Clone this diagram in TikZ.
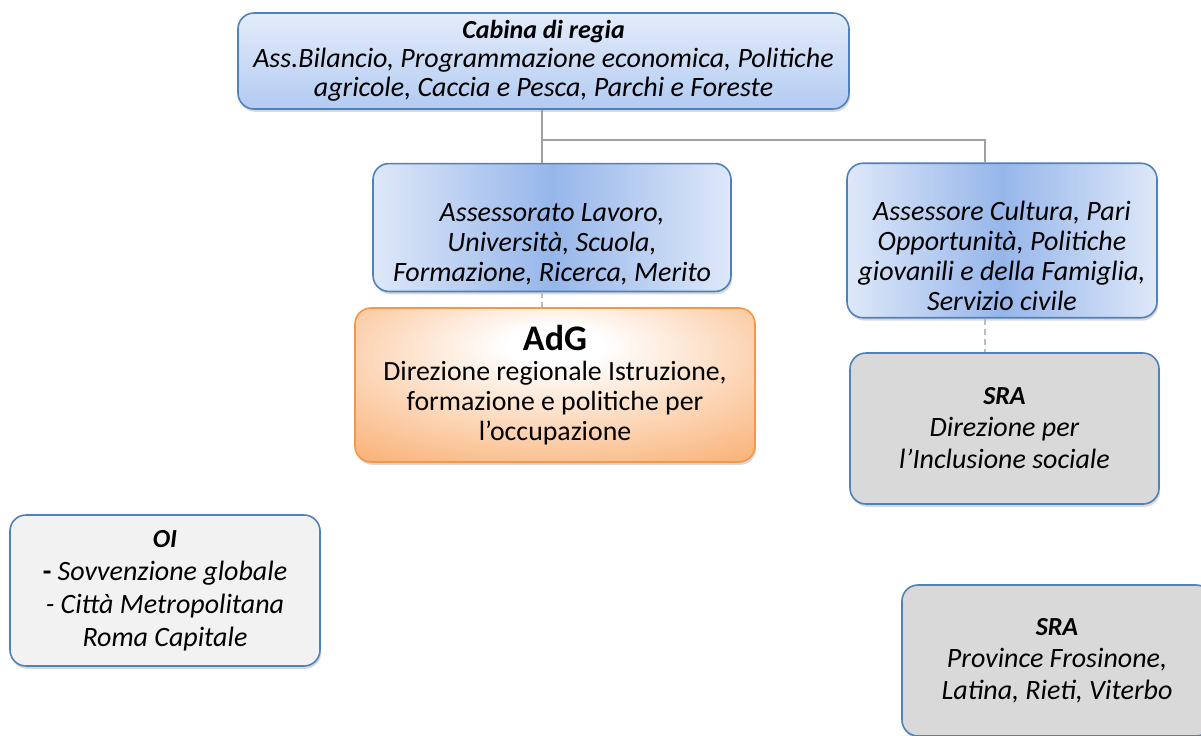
\documentclass[tikz,border=0pt]{standalone}
\usepackage{fontspec}
\setmainfont{Carlito}
\usetikzlibrary{shadows}

\definecolor{bordo}{RGB}{79,129,189}
\definecolor{bluchiaro}{RGB}{222,232,249}
\definecolor{blutop}{RGB}{228,236,250}
\definecolor{blubot}{RGB}{178,203,242}
\definecolor{blumedio}{RGB}{150,182,234}
\definecolor{arancio}{RGB}{247,150,70}
\definecolor{grigioscuro}{RGB}{217,217,217}
\definecolor{grigiochiaro}{RGB}{242,242,242}
\definecolor{grigiolinea}{RGB}{160,160,160}

% sfumatura arancio, chiara in alto al centro
\pgfdeclareradialshading{adgsh}{\pgfpoint{0bp}{14bp}}{color(0bp)=(white);
  color(6bp)=(white); color(36bp)=(arancio!65); color(52bp)=(arancio);
  color(80bp)=(arancio)}

\newcommand\titolo[2][13]{{\fontsize{#1}{14}\selectfont\bfseries #2}}

\begin{document}
\begin{tikzpicture}[x=0.5pt,y=-0.5pt,
  box/.style={draw=bordo, line width=0.8pt, rounded corners=8pt, align=center,
    font=\fontsize{14}{14.5}\selectfont\itshape,
    drop shadow={shadow xshift=0.6pt, shadow yshift=-1.4pt, opacity=0.3}},
  cabina/.style={box, top color=blutop, bottom color=blubot},
  assess/.style={box, left color=bluchiaro, right color=bluchiaro, middle color=blumedio,
    font=\fontsize{14}{15}\selectfont\itshape},
  adgbox/.style={box, draw=arancio, shade, shading=adgsh,
    font=\fontsize{13.9}{15}\selectfont},
  sra/.style={box, fill=grigioscuro, font=\fontsize{14}{16}\selectfont\itshape},
  oibox/.style={box, fill=grigiochiaro, font=\fontsize{14}{16.5}\selectfont\itshape},
  linea/.style={draw=grigiolinea, line width=1pt},
  tratto/.style={draw=grigiolinea!70, line width=1pt, dash pattern=on 3pt off 2pt}]
  \useasboundingbox (0,0) rectangle (1201,735);
  \clip (0,0) rectangle (1201,735);

  % livello alto
  \node[cabina, minimum width=305.5pt, minimum height=48pt] (cab) at (543.5,61)
  {\titolo{Cabina di regia}\\Ass.Bilancio, Programmazione economica, Politiche\\
    agricole, Caccia e Pesca, Parchi e Foreste};

  % assessorati
  \node[assess, minimum width=179pt, minimum height=62.5pt] (asl) at (552,227.5)
  {\strut\\Assessorato Lavoro,\\Università, Scuola,\\Formazione, Ricerca, Merito};
  \node[assess, minimum width=155pt, minimum height=75.5pt] (asc) at (1002,240.5)
  {\strut\\Assessore Cultura, Pari\\Opportunità, Politiche\\giovanili e della Famiglia,\\
    Servizio civile};

  % autorità di gestione e strutture
  \node[adgbox, minimum width=200pt, minimum height=77pt] (adg) at (555,385)
  {{\fontsize{18}{20}\selectfont\bfseries AdG}\\Direzione regionale Istruzione,\\
    formazione e politiche per\\l’occupazione};
  \node[sra, minimum width=154.5pt, minimum height=75.5pt] (sra1) at (1004.5,428.5)
  {\titolo{SRA}\\Direzione per\\l’Inclusione sociale};
  \node[oibox, minimum width=155pt, minimum height=75.5pt] (oi) at (165,590.5)
  {\titolo{OI}\\\textbf{\upshape -} Sovvenzione globale\\- Città Metropolitana\\
    Roma Capitale};
  \node[sra, minimum width=155pt, minimum height=75.5pt] (sra2) at (1057,660.5)
  {\titolo{SRA}\\Province Frosinone,\\Latina, Rieti, Viterbo};

  % collegamenti
  \coordinate (nodo) at (cab.south |- 0,140);
  \coordinate (destra) at ([xshift=-8.5pt]asc.north);
  \draw[linea] ([xshift=-1pt]cab.south) -- ([xshift=-1pt]cab.south |- asl.north);
  \draw[linea] ([xshift=-1pt]nodo) -| (destra);
  \draw[tratto] ([xshift=-1pt]cab.south |- asl.south) -- ([xshift=-1pt]cab.south |- adg.north);
  \draw[tratto] (destra |- asc.south) -- (destra |- sra1.north);
\end{tikzpicture}
\end{document}
